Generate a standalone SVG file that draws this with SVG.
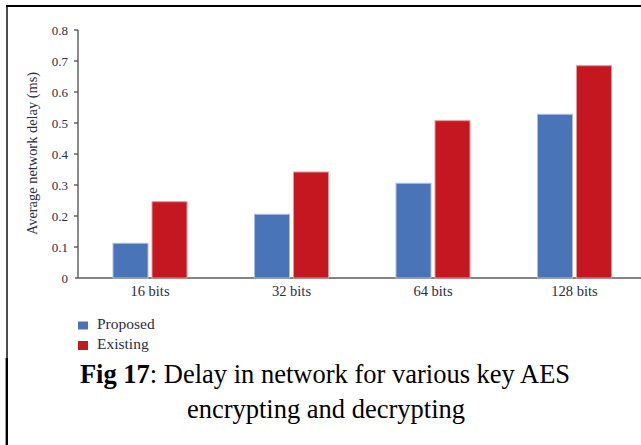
<svg xmlns="http://www.w3.org/2000/svg" width="641" height="445" viewBox="0 0 641 445">
  <style>
    .tick { font-family: "Liberation Serif", "Times New Roman", serif; font-size: 13px; fill: #2c2c44; }
    .title { font-family: "Liberation Serif", "Times New Roman", serif; font-size: 14.4px; fill: #2c2c44; text-anchor: middle; }
    .cat { font-family: "Liberation Serif", "Times New Roman", serif; font-size: 14.5px; fill: #2c2c44; text-anchor: middle; }
    .leg { font-family: "Liberation Serif", "Times New Roman", serif; font-size: 15.5px; fill: #2c2c44; }
    .cap { font-family: "Liberation Serif", "Times New Roman", serif; font-size: 26.5px; fill: #000; text-anchor: middle; }
    .prop { fill: #4a74b8; stroke: #a9bfe2; stroke-width: 1; }
    .exist { fill: #c4171f; stroke: #e5979a; stroke-width: 1; }
    .axis { stroke: #5a5a5a; stroke-width: 1.4; fill: none; }
  </style>
  <rect width="641" height="445" fill="#fff"/>

  <!-- frame -->
  <g id="frame" stroke="#000" fill="none">
    <line x1="6" y1="6" x2="641" y2="6" stroke-width="2.2"/>
    <line x1="7" y1="5" x2="7" y2="358" stroke-width="1.4"/>
    <line x1="6.8" y1="358" x2="6.8" y2="445" stroke-width="2.4"/>
  </g>

  <!-- axes -->
  <g id="axes">
    <line class="axis" x1="78" y1="30" x2="78" y2="278"/>
    <line class="axis" x1="75" y1="278" x2="641" y2="278"/>
    <g class="axis">
      <line x1="74" y1="30" x2="78" y2="30"/>
      <line x1="74" y1="61" x2="78" y2="61"/>
      <line x1="74" y1="92" x2="78" y2="92"/>
      <line x1="74" y1="123" x2="78" y2="123"/>
      <line x1="74" y1="154" x2="78" y2="154"/>
      <line x1="74" y1="185" x2="78" y2="185"/>
      <line x1="74" y1="216" x2="78" y2="216"/>
      <line x1="74" y1="247" x2="78" y2="247"/>
    </g>
    <g class="tick" text-anchor="end">
      <text x="68" y="34.5">0.8</text>
      <text x="68" y="65.5">0.7</text>
      <text x="68" y="96.5">0.6</text>
      <text x="68" y="127.5">0.5</text>
      <text x="68" y="158.5">0.4</text>
      <text x="68" y="189.5">0.3</text>
      <text x="68" y="220.5">0.2</text>
      <text x="68" y="251.5">0.1</text>
      <text x="68" y="282.5">0</text>
    </g>
    <text class="title" transform="translate(37,153.5) rotate(-90)">Average network delay (ms)</text>
  </g>

  <!-- bars: 310 px per ms, baseline y=278 -->
  <g id="bars-16">
    <rect class="prop" x="113" y="243.3" width="35" height="34.7"/>
    <rect class="exist" x="152" y="201.7" width="35" height="76.3"/>
    <text class="cat" x="150" y="296">16 bits</text>
  </g>
  <g id="bars-32">
    <rect class="prop" x="254.5" y="214.3" width="35" height="63.7"/>
    <rect class="exist" x="293.5" y="172" width="35" height="106"/>
    <text class="cat" x="291.5" y="296">32 bits</text>
  </g>
  <g id="bars-64">
    <rect class="prop" x="396" y="183.3" width="35" height="94.7"/>
    <rect class="exist" x="435" y="120.7" width="35" height="157.3"/>
    <text class="cat" x="433" y="296">64 bits</text>
  </g>
  <g id="bars-128">
    <rect class="prop" x="537.5" y="114.3" width="35" height="163.7"/>
    <rect class="exist" x="576.5" y="65.7" width="35" height="212.3"/>
    <text class="cat" x="574.5" y="296">128 bits</text>
  </g>

  <!-- legend -->
  <g id="legend">
    <rect x="78" y="321.5" width="10" height="8" fill="#4a74b8"/>
    <text class="leg" x="97" y="328.5">Proposed</text>
    <rect x="78" y="341" width="10" height="9" fill="#c4171f"/>
    <text class="leg" x="97" y="349">Existing</text>
  </g>

  <!-- caption -->
  <g id="caption">
    <text class="cap" x="325" y="383"><tspan font-weight="bold">Fig 17</tspan>: Delay in network for various key AES</text>
    <text class="cap" x="326" y="418">encrypting and decrypting</text>
  </g>
</svg>
